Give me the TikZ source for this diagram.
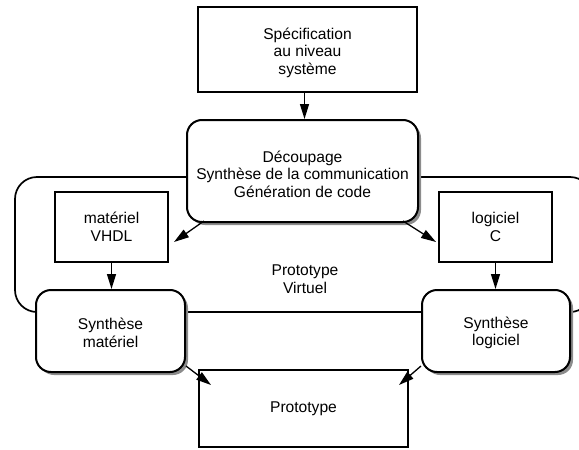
\documentclass[tikz,border=0pt]{standalone}
\usepackage{fontspec}
\setmainfont{Liberation Sans}
\usetikzlibrary{arrows.meta,shadows,calc}
\begin{document}
\begin{tikzpicture}[x=1pt,y=-1pt,
  every node/.style={font=\fontsize{15.6}{17.5}\selectfont, align=center, inner sep=0pt},
  plainbox/.style={draw, line width=2pt, fill=white},
  roundbox/.style={draw, line width=2pt, fill=white, rounded corners=15pt,
    drop shadow={shadow xshift=3pt, shadow yshift=-3pt, fill=black!45, opacity=1}},
  bigbox/.style={draw, line width=1.7pt, rounded corners=22pt},
  arr/.style={line width=1.3pt, -{Triangle[length=15pt,width=9pt]}}]
\useasboundingbox (0,0) rectangle (579,450);
\begin{scope}
\clip (0,0) rectangle (579,450);
\node[bigbox, minimum width=577pt, minimum height=135pt] (big) at (303.5,244.5) {};
\end{scope}
\node (pv) at (305,279) {Prototype\\Virtuel};
\node[plainbox, minimum width=219pt, minimum height=85pt] (spec) at (307.5,49.5) {\rule{0pt}{18pt}Spécification\\au niveau\\système};
\node[roundbox, minimum width=231pt, minimum height=102pt] (dec) at (302.5,171) {\rule{0pt}{18pt}Découpage\\Synthèse de la communication\\Génération de code};
\node[plainbox, minimum width=113pt, minimum height=70pt] (mat) at (111.5,227) {matériel\\VHDL};
\node[plainbox, minimum width=113pt, minimum height=70pt] (log) at (495.5,227) {logiciel\\C};
\node[roundbox, minimum width=149pt, minimum height=82pt] (smat) at (110.5,331) {\rule{0pt}{15pt}Synthèse\\matériel};
\node[roundbox, minimum width=148pt, minimum height=82pt] (slog) at (496,331) {\rule{0pt}{15pt}Synthèse\\logiciel};
\node[plainbox, minimum width=209pt, minimum height=77pt] (proto) at (303.5,408.5) {Prototype};
\coordinate (sa) at ($(spec.south)+(-3,0)$);
\draw[arr] (sa) -- (sa |- dec.north);
\draw[arr] (mat.south) -- (smat.north -| mat.south);
\draw[arr] (log.south) -- (slog.north -| log.south);
\draw[arr] ($(dec.south west)+(18,-2)$) -- ($(mat.east)+(5,15)$);
\draw[arr] ($(dec.south east)+(-16,-2)$) -- ($(log.west)+(-2,15)$);
\draw[arr] ($(smat.south east)+(0,-7)$) -- ($(proto.north west)+(13,16)$);
\draw[arr] ($(slog.south west)+(0,-7)$) -- ($(proto.north east)+(-10,16)$);
\end{tikzpicture}
\end{document}
